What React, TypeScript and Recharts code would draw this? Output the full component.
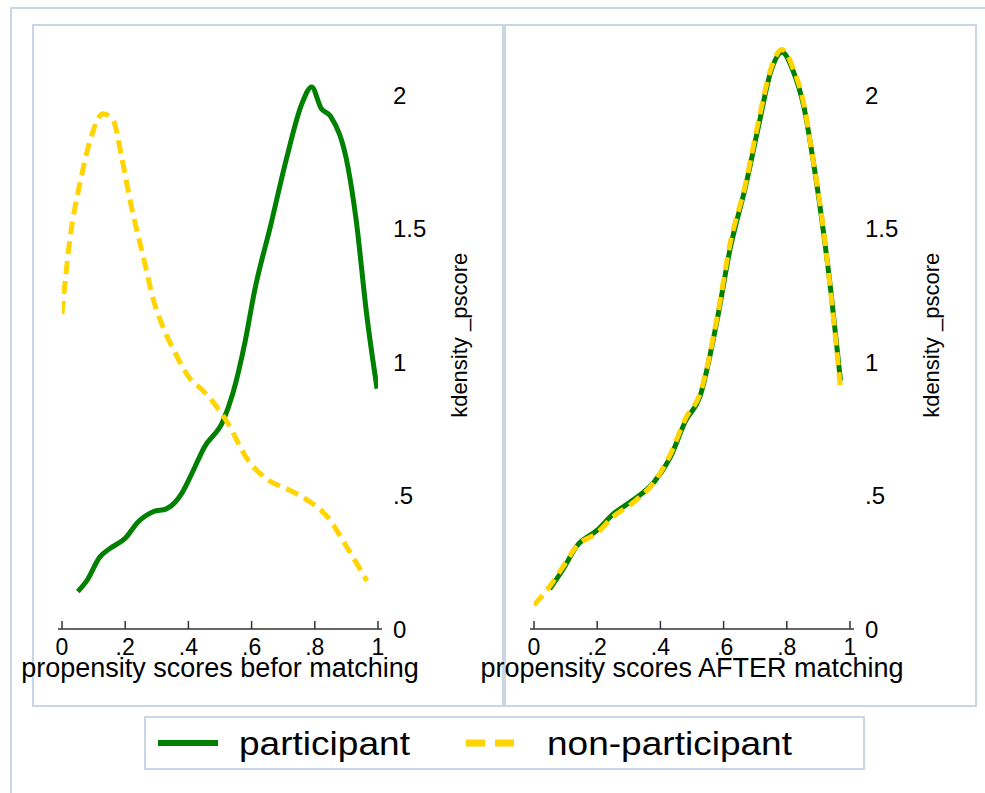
import React from "react";
import { LineChart, Line, XAxis, YAxis, Label } from "recharts";

// kdensity of propensity scores
const beforePartX = [0.05, 0.078, 0.12, 0.15, 0.2, 0.24, 0.29, 0.33, 0.38, 0.41, 0.45, 0.51, 0.54, 0.58, 0.61, 0.66, 0.71, 0.76, 0.79, 0.82, 0.85, 0.905, 0.93, 0.965, 0.997];
const beforePartY = [0.14, 0.18, 0.27, 0.3, 0.34, 0.4, 0.44, 0.45, 0.51, 0.58, 0.68, 0.78, 0.88, 1.08, 1.27, 1.51, 1.76, 1.97, 2.03, 1.95, 1.92, 1.73, 1.54, 1.17, 0.9];

const beforeNonX = [0, 0.025, 0.057, 0.089, 0.13, 0.16, 0.19, 0.22, 0.26, 0.29, 0.32, 0.36, 0.41, 0.44, 0.52, 0.59, 0.65, 0.72, 0.78, 0.84, 0.9, 0.965];
const beforeNonY = [1.18, 1.46, 1.67, 1.83, 1.93, 1.91, 1.76, 1.58, 1.38, 1.23, 1.13, 1.03, 0.93, 0.9, 0.78, 0.63, 0.56, 0.52, 0.48, 0.42, 0.31, 0.18];

const afterPartX = [0.05, 0.09, 0.135, 0.2, 0.25, 0.31, 0.38, 0.43, 0.48, 0.525, 0.58, 0.62, 0.67, 0.71, 0.75, 0.785, 0.82, 0.855, 0.88, 0.91, 0.94, 0.97];
const afterPartY = [0.15, 0.22, 0.31, 0.37, 0.43, 0.48, 0.55, 0.64, 0.78, 0.87, 1.16, 1.42, 1.66, 1.88, 2.09, 2.16, 2.09, 1.95, 1.78, 1.54, 1.26, 0.93];

const afterNonX = [0, 0.05, 0.09, 0.135, 0.2, 0.25, 0.31, 0.38, 0.43, 0.48, 0.525, 0.58, 0.62, 0.67, 0.71, 0.75, 0.785, 0.82, 0.855, 0.88, 0.91, 0.94, 0.97];
const afterNonY = [0.09, 0.16, 0.23, 0.31, 0.36, 0.42, 0.47, 0.55, 0.65, 0.79, 0.88, 1.17, 1.44, 1.67, 1.9, 2.1, 2.17, 2.1, 1.96, 1.78, 1.55, 1.25, 0.9];

const xTicks = [0, 0.2, 0.4, 0.6, 0.8, 1];
const yTicks = [0, 0.5, 1, 1.5, 2];
const seriesNames = ["participant", "non-participant"];

const GREEN = "#008000";
const GOLD = "#FFD400";
const FRAME = "#CBD6E4";
const FONT = "'Liberation Sans', Arial, Helvetica, sans-serif";

const toPoints = (xs: number[], ys: number[]) => xs.map((x, i) => ({ x, y: ys[i] }));

// stata style: .5 instead of 0.5
const fmt = (v: number) => (v === 0 ? "0" : String(v).replace(/^0\./, "."));

interface PanelProps {
  left: number;
  title: string;
  part: { x: number; y: number }[];
  nonPart: { x: number; y: number }[];
}

// plot area always starts 58px into the svg (extra room for the wide x title)
function DensityPanel({ left, title, part, nonPart }: PanelProps) {
  return (
    <div style={{ position: "absolute", left, top: 25 }}>
      <LineChart width={536} height={664} margin={{ top: 16.6, right: 0, bottom: 0, left: 58 }}>
        <XAxis
          type="number"
          dataKey="x"
          domain={[0, 1]}
          ticks={xTicks}
          tickFormatter={fmt}
          padding={{ left: 4, right: 4 }}
          height={60}
          tickSize={-8}
          tickMargin={18}
          axisLine={{ stroke: "#333", strokeWidth: 1.5 }}
          tickLine={{ stroke: "#333", strokeWidth: 1.5 }}
          tick={{ fill: "#000", fontSize: 23 }}
          allowDataOverflow
        >
          <Label value={title} position="insideBottom" offset={12} style={{ fontSize: 27, fill: "#000" }} />
        </XAxis>
        <YAxis
          orientation="right"
          type="number"
          domain={[0, 2.2]}
          ticks={yTicks}
          tickFormatter={fmt}
          width={154}
          axisLine={false}
          tickLine={false}
          tickSize={0}
          tickMargin={11}
          tick={{ fill: "#000", fontSize: 24, textAnchor: "start" }}
          allowDataOverflow
        >
          <Label value="kdensity _pscore" angle={-90} position="center" style={{ fontSize: 22, fill: "#000" }} />
        </YAxis>
        <Line data={part} dataKey="y" name={seriesNames[0]} type="monotone" stroke={GREEN} strokeWidth={5} dot={false} isAnimationActive={false} />
        <Line data={nonPart} dataKey="y" name={seriesNames[1]} type="monotone" stroke={GOLD} strokeWidth={5} strokeDasharray="13 7" dot={false} isAnimationActive={false} />
      </LineChart>
    </div>
  );
}

function box(left: number, top: number, width: number, height: number): React.CSSProperties {
  return { position: "absolute", left, top, width, height, border: `2px solid ${FRAME}`, boxSizing: "border-box" };
}

export default function App() {
  return (
    <div style={{ position: "absolute", left: 0, top: 0, width: 985, height: 793, overflow: "hidden", background: "#fff", fontFamily: FONT }}>
      {/* graph region + the two plot boxes */}
      <div style={box(10, 7, 1000, 1000)} />
      <div style={box(32, 24, 472, 683)} />
      <div style={box(504, 24, 473, 683)} />

      <DensityPanel left={0} title="propensity scores befor matching" part={toPoints(beforePartX, beforePartY)} nonPart={toPoints(beforeNonX, beforeNonY)} />
      <DensityPanel left={472} title="propensity scores AFTER matching" part={toPoints(afterPartX, afterPartY)} nonPart={toPoints(afterNonX, afterNonY)} />

      {/* shared legend */}
      <svg style={{ position: "absolute", left: 0, top: 0 }} width={985} height={793}>
        <rect x={145} y={717} width={719} height={52} fill="none" stroke={FRAME} strokeWidth={2} />
        <line x1={158} y1={743} x2={218} y2={743} stroke={GREEN} strokeWidth={6} />
        <text x={239} y={755} fontSize={33} textLength={171} lengthAdjust="spacingAndGlyphs" fill="#000" fontFamily={FONT}>
          {seriesNames[0]}
        </text>
        <line x1={466} y1={743} x2={515} y2={743} stroke={GOLD} strokeWidth={7} strokeDasharray="19 10" />
        <text x={547} y={755} fontSize={33} textLength={245} lengthAdjust="spacingAndGlyphs" fill="#000" fontFamily={FONT}>
          {seriesNames[1]}
        </text>
      </svg>
    </div>
  );
}
